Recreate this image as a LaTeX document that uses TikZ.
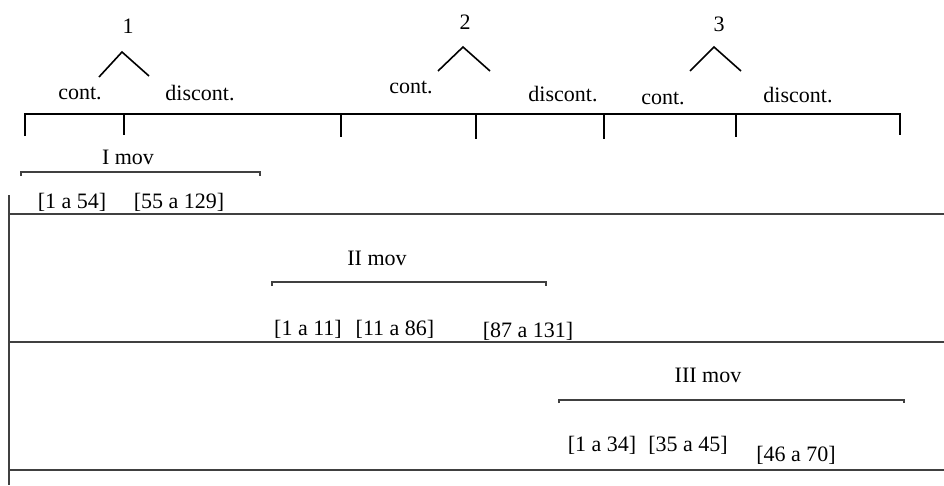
\documentclass[tikz,border=0pt]{standalone}
\usepackage{fontspec}
\setmainfont{Liberation Serif}
\begin{document}
\begin{tikzpicture}[x=1pt,y=-1pt,
  lbl/.style={inner sep=0pt,font=\fontsize{22}{26}\selectfont},
  timeline/.style={line width=2pt,black},
  caret/.style={line width=1.6pt,black},
  brk/.style={line width=1.2pt,black!75},
  sep/.style={line width=1.2pt,black!75}]
\useasboundingbox[fill=white] (0,0) rectangle (944,485);
% top numbers
\node[lbl] (n1) at (128,26) {1};
\node[lbl] (n2) at (465,22) {2};
\node[lbl] (n3) at (719,24) {3};
% carets
\coordinate (a1l) at (99,77); \coordinate (a1t) at (122,52); \coordinate (a1r) at (149,76);
\coordinate (a2l) at (438,71); \coordinate (a2t) at (463,47); \coordinate (a2r) at (490,71);
\coordinate (a3l) at (690,71); \coordinate (a3t) at (714,47); \coordinate (a3r) at (741,71);
\draw[caret] (a1l) -- (a1t) -- (a1r);
\draw[caret] (a2l) -- (a2t) -- (a2r);
\draw[caret] (a3l) -- (a3t) -- (a3r);
% labels
\node[lbl] (c1) at (80,93) {cont.};
\node[lbl] (d1) at (200,93) {discont.};
\node[lbl] (c2) at (411,87) {cont.};
\node[lbl] (d2) at (563,94) {discont.};
\node[lbl] (c3) at (663,98) {cont.};
\node[lbl] (d3) at (798,95) {discont.};
% timeline
\coordinate (t0) at (25,114); \coordinate (t6) at (900,114);
\draw[timeline] (25,136) -- (t0) -- (t6) -- (900,135);
\foreach \x/\yy in {124/135,341/137,476/139,604/139,736/137}
  \draw[timeline] (\x,114) -- (\x,\yy);
% left vertical and separators
\coordinate (v0) at (9,195); \coordinate (v1) at (9,485);
\draw[sep] (v0) -- (v1);
\coordinate (h1l) at (9,214); \coordinate (h1r) at (944,214);
\coordinate (h2l) at (9,342); \coordinate (h2r) at (944,342);
\coordinate (h3l) at (9,470); \coordinate (h3r) at (944,470);
\draw[sep] (h1l) -- (h1r);
\draw[sep] (h2l) -- (h2r);
\draw[sep] (h3l) -- (h3r);
% I mov
\node[lbl] (m1) at (128,157) {I mov};
\draw[brk] (21,176) -- (21,172) -- (260,172) -- (260,176);
\node[lbl] (r11) at (72,202) {[1 a 54]};
\node[lbl] (r12) at (179,202) {[55 a 129]};
% II mov
\node[lbl] (m2) at (377,258) {II mov};
\draw[brk] (272,286) -- (272,282) -- (546,282) -- (546,286);
\node[lbl] (r21) at (308,329) {[1 a 11]};
\node[lbl] (r22) at (395,329) {[11 a 86]};
\node[lbl] (r23) at (528,331) {[87 a 131]};
% III mov
\node[lbl] (m3) at (708,375) {III mov};
\draw[brk] (559,403) -- (559,400) -- (904,400) -- (904,403);
\node[lbl] (r31) at (602,445) {[1 a 34]};
\node[lbl] (r32) at (688,445) {[35 a 45]};
\node[lbl] (r33) at (796,455) {[46 a 70]};
\end{tikzpicture}
\end{document}
